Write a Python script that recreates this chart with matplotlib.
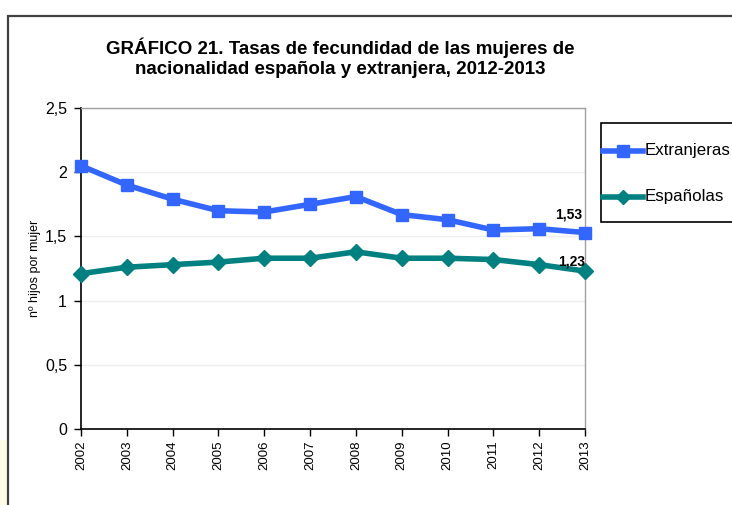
import matplotlib
matplotlib.use("Agg")
import matplotlib.pyplot as plt
from matplotlib.patches import Rectangle
from matplotlib.lines import Line2D
from matplotlib.ticker import FuncFormatter

plt.rcParams['font.family'] = ['Liberation Sans', 'DejaVu Sans']

years = [2002, 2003, 2004, 2005, 2006, 2007, 2008, 2009, 2010, 2011, 2012, 2013]
extranjeras = [2.05, 1.90, 1.79, 1.70, 1.69, 1.75, 1.81, 1.67, 1.63, 1.55, 1.56, 1.53]
espanolas = [1.21, 1.26, 1.28, 1.30, 1.33, 1.33, 1.38, 1.33, 1.33, 1.32, 1.28, 1.23]
y_ticks = [0, 0.5, 1, 1.5, 2, 2.5]
title = "GRÁFICO 21. Tasas de fecundidad de las mujeres de\nnacionalidad española y extranjera, 2012-2013"
ylabel = "nº hijos por mujer"
series_names = ["Extranjeras", "Españolas"]
blue = "#3366FF"
teal = "#008080"

W, H = 732, 505
fig = plt.figure(figsize=(W / 100, H / 100), dpi=100)

# faint background hint at bottom-left and outer frame
fig.patches.append(Rectangle((0, 0), 7 / W, 65 / H, transform=fig.transFigure,
                             facecolor="#FDFBE8", edgecolor="none", zorder=0))
fig.patches.append(Rectangle((8 / W, -0.05), 1.2, 1 - 16 / H + 0.05, transform=fig.transFigure,
                             facecolor="none", edgecolor="#404040", linewidth=1.6, zorder=1))

ax = fig.add_axes([81 / W, 1 - 429 / H, (585 - 81) / W, (429 - 108) / H])
ax.plot(years, extranjeras, color=blue, linewidth=4, marker='s', markersize=9,
        label=series_names[0], clip_on=False, zorder=3)
ax.plot(years, espanolas, color=teal, linewidth=4, marker='D', markersize=8,
        label=series_names[1], clip_on=False, zorder=3)

ax.set_xlim(years[0], years[-1])
ax.set_ylim(0, 2.5)
ax.set_yticks(y_ticks)
ax.yaxis.set_major_formatter(FuncFormatter(lambda v, p: ("%g" % v).replace('.', ',')))
ax.set_xticks(years)
ax.set_xticklabels([str(y) for y in years], rotation=90, fontsize=9.5)
ax.tick_params(axis='y', labelsize=11.5, direction='out', length=5, width=1, pad=5)
ax.tick_params(axis='x', direction='out', length=5, width=1, pad=3)
ax.grid(axis='y', color='#EEEEEE', linewidth=1)
ax.set_axisbelow(True)
for s in ['top', 'right']:
    ax.spines[s].set_color('#A0A0A0')
    ax.spines[s].set_linewidth(1)
for s in ['left', 'bottom']:
    ax.spines[s].set_color('black')
    ax.spines[s].set_linewidth(1.2)

ax.set_ylabel(ylabel, fontsize=9)
ax.yaxis.set_label_coords(-0.08, 0.5)

ax.annotate(("%.2f" % extranjeras[-1]).replace('.', ','), (years[-1], extranjeras[-1]),
            xytext=(-2, 8), textcoords='offset points', ha='right', va='bottom',
            fontsize=10, fontweight='bold')
ax.annotate(("%.2f" % espanolas[-1]).replace('.', ','), (years[-1], espanolas[-1]),
            xytext=(0, 2), textcoords='offset points', ha='right', va='bottom',
            fontsize=10, fontweight='bold')

fig.text(340 / W, 1 - 58 / H, title, ha='center', va='center', fontsize=13.5,
         fontweight='bold', linespacing=1.2)

# legend (drawn in figure pixel coordinates)
def fx(px):
    return px / W

def fy(py):
    return 1 - py / H

fig.patches.append(Rectangle((fx(601), fy(222)), 0.2, (222 - 123) / H, transform=fig.transFigure,
                             facecolor="white", edgecolor="black", linewidth=1.2, zorder=2))
styles = [(blue, 's', 8), (teal, 'D', 7)]
for (c, m, ms), name, py in zip(styles, series_names, [151, 197]):
    fig.add_artist(Line2D([fx(603), fx(643)], [fy(py), fy(py)], transform=fig.transFigure,
                          color=c, linewidth=4, zorder=3))
    fig.add_artist(Line2D([fx(623)], [fy(py)], transform=fig.transFigure, color=c,
                          marker=m, markersize=ms, zorder=4))
    fig.text(fx(645), fy(py), name, ha='left', va='center', fontsize=12.2, zorder=5)

fig.savefig("out.png", dpi=100)
